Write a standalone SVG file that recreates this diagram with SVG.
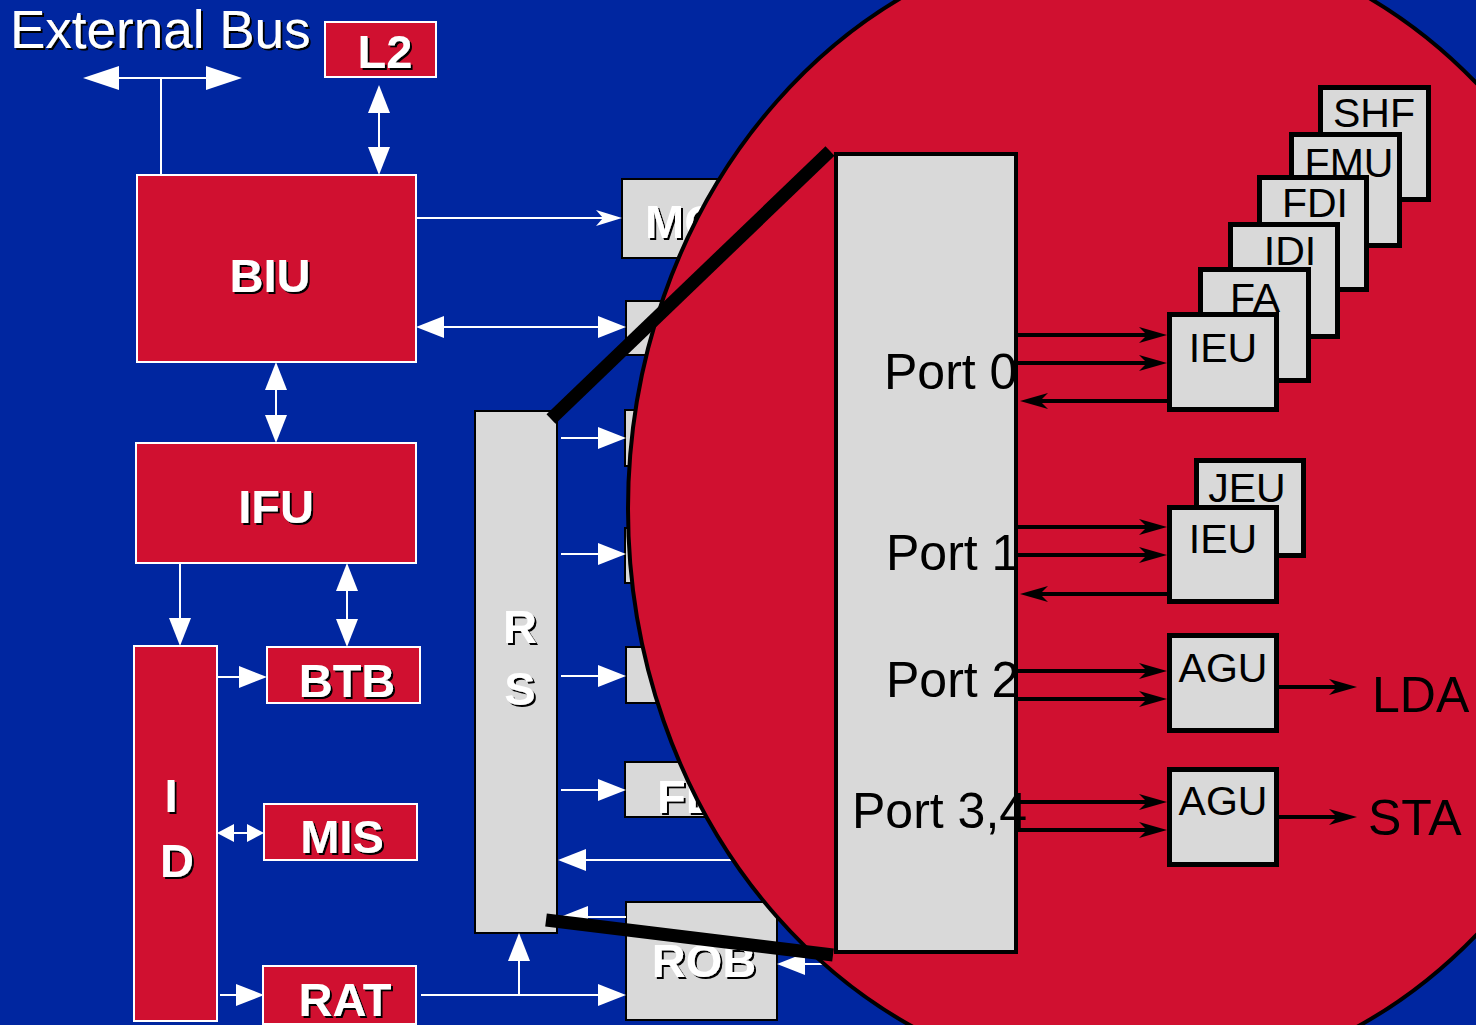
<svg xmlns="http://www.w3.org/2000/svg" width="1476" height="1025" viewBox="0 0 1476 1025">
<defs>
<style>
.bg{fill:#0026A0}
.rb{fill:#D01030;stroke:#fff;stroke-width:2}
.gb{fill:#D9D9D9;stroke:#000;stroke-width:2}
.ub{fill:#D9D9D9;stroke:#000;stroke-width:5}
.wl{font-family:"Liberation Sans",Arial,sans-serif;font-weight:bold;font-size:47px;fill:#fff;text-anchor:middle;filter:url(#sh)}
.ul{font-family:"Liberation Sans",Arial,sans-serif;font-size:41px;fill:#000;text-anchor:middle}
.pl{font-family:"Liberation Sans",Arial,sans-serif;font-size:50px;fill:#000}
.w{stroke:#fff;stroke-width:2;fill:none}
.b{stroke:#000;stroke-width:4;fill:none}
.z{stroke:#000;stroke-width:13;fill:none}
</style>
<filter id="sh" x="-10%" y="-10%" width="130%" height="130%">
<feDropShadow dx="2" dy="2" stdDeviation="0.4" flood-color="#000" flood-opacity="1"/>
</filter>
<marker id="aw" viewBox="0 0 28 22" markerWidth="28" markerHeight="22" refX="20" refY="11" orient="auto-start-reverse" markerUnits="userSpaceOnUse"><path d="M0,0 L28,11 L0,22 z" fill="#fff"/></marker>
<marker id="awl" viewBox="0 0 36 24" markerWidth="36" markerHeight="24" refX="28" refY="12" orient="auto-start-reverse" markerUnits="userSpaceOnUse"><path d="M0,0 L36,12 L0,24 z" fill="#fff"/></marker>
<marker id="aws" viewBox="0 0 17 18" markerWidth="17" markerHeight="18" refX="12" refY="9" orient="auto-start-reverse" markerUnits="userSpaceOnUse"><path d="M0,0 L17,9 L0,18 z" fill="#fff"/></marker>
<marker id="awb" viewBox="0 0 26 16" markerWidth="26" markerHeight="16" refX="20" refY="8" orient="auto" markerUnits="userSpaceOnUse"><path d="M0,0 L26,8 L0,16 L7,8 z" fill="#fff"/></marker>
<marker id="ab" viewBox="0 0 28 16" markerWidth="28" markerHeight="16" refX="18" refY="8" orient="auto" markerUnits="userSpaceOnUse"><path d="M0,0 L28,8 L0,16 L8,8 z" fill="#000"/></marker>
</defs>
<rect class="bg" x="0" y="0" width="1476" height="1025"/>
<text x="10" y="48" font-family="Liberation Sans, Arial, sans-serif" font-size="53" fill="#fff" filter="url(#sh)">External Bus</text>
<g id="L2"><rect class="rb" x="325" y="22" width="111" height="55"/><text class="wl" x="385" y="68">L2</text></g>
<g id="BIU"><rect class="rb" x="137" y="175" width="279" height="187"/><text class="wl" x="270" y="292">BIU</text></g>
<g id="IFU"><rect class="rb" x="136" y="443" width="280" height="120"/><text class="wl" x="276" y="523">IFU</text></g>
<g id="ID"><rect class="rb" x="134" y="646" width="83" height="375"/><text class="wl" x="171" y="812">I</text><text class="wl" x="177" y="877">D</text></g>
<g id="BTB"><rect class="rb" x="267" y="647" width="153" height="56"/><text class="wl" x="347" y="697">BTB</text></g>
<g id="MIS"><rect class="rb" x="264" y="804" width="153" height="56"/><text class="wl" x="342" y="853">MIS</text></g>
<g id="RAT"><rect class="rb" x="263" y="966" width="153" height="58"/><text class="wl" x="345" y="1016">RAT</text></g>
<g id="RS"><rect class="gb" x="475" y="411" width="82" height="522"/><text class="wl" x="520" y="643">R</text><text class="wl" x="520" y="705">S</text></g>
<g id="MOB"><rect class="gb" x="622" y="179" width="155" height="79"/><text class="wl" x="645" y="238" style="text-anchor:start">MOB</text></g>
<g id="U2"><rect class="gb" x="626" y="301" width="150" height="54"/></g>
<g id="U3"><rect class="gb" x="625" y="410" width="150" height="56"/></g>
<g id="U4"><rect class="gb" x="625" y="528" width="150" height="55"/></g>
<g id="U5"><rect class="gb" x="626" y="647" width="150" height="56"/></g>
<g id="FEU"><rect class="gb" x="625" y="762" width="150" height="55"/><text class="wl" x="657" y="813" style="text-anchor:start">FEU</text></g>
<g id="ROB"><rect class="gb" x="626" y="902" width="151" height="118"/><text class="wl" x="704" y="977">ROB</text></g>
<g id="connectors">
<line class="w" x1="91" y1="78" x2="234" y2="78" marker-start="url(#awl)" marker-end="url(#awl)"/>
<line class="w" x1="161" y1="78" x2="161" y2="175"/>
<line class="w" x1="379" y1="93" x2="379" y2="167" marker-start="url(#aw)" marker-end="url(#aw)"/>
<line class="w" x1="416" y1="218" x2="616" y2="218" marker-end="url(#awb)"/>
<line class="w" x1="424" y1="327" x2="618" y2="327" marker-start="url(#aw)" marker-end="url(#aw)"/>
<line class="w" x1="276" y1="370" x2="276" y2="435" marker-start="url(#aw)" marker-end="url(#aw)"/>
<line class="w" x1="180" y1="563" x2="180" y2="638" marker-end="url(#aw)"/>
<line class="w" x1="347" y1="571" x2="347" y2="639" marker-start="url(#aw)" marker-end="url(#aw)"/>
<line class="w" x1="217" y1="677" x2="259" y2="677" marker-end="url(#aw)"/>
<line class="w" x1="222" y1="833" x2="259" y2="833" marker-start="url(#aws)" marker-end="url(#aws)"/>
<line class="w" x1="220" y1="995" x2="256" y2="995" marker-end="url(#aw)"/>
<line class="w" x1="421" y1="995" x2="618" y2="995" marker-end="url(#aw)"/>
<line class="w" x1="519" y1="995" x2="519" y2="941" marker-end="url(#aw)"/>
<line class="w" x1="561" y1="438" x2="618" y2="438" marker-end="url(#aw)"/>
<line class="w" x1="561" y1="554" x2="618" y2="554" marker-end="url(#aw)"/>
<line class="w" x1="561" y1="676" x2="618" y2="676" marker-end="url(#aw)"/>
<line class="w" x1="561" y1="790" x2="618" y2="790" marker-end="url(#aw)"/>
<line class="w" x1="740" y1="860" x2="566" y2="860" marker-end="url(#aw)"/>
<line class="w" x1="626" y1="917" x2="568" y2="917" marker-end="url(#aw)"/>
<line class="w" x1="830" y1="964" x2="785" y2="964" marker-end="url(#aw)"/>
</g>
<g id="zoom-circle">
<ellipse cx="1135" cy="509" rx="507" ry="576" fill="#D01030" stroke="#000" stroke-width="4"/>
<line class="z" x1="551" y1="419" x2="830" y2="151"/>
<line class="z" x1="546" y1="920" x2="833" y2="955"/>
</g>
<g id="Ports"><rect fill="#D9D9D9" stroke="#000" stroke-width="4" x="836" y="154" width="180" height="798"/>
<text class="pl" x="884" y="389">Port 0</text>
<text class="pl" x="886" y="570">Port 1</text>
<text class="pl" x="886" y="697">Port 2</text>
<text class="pl" x="852" y="828">Port 3,4</text></g>
<g id="SHF"><rect class="ub" x="1320.5" y="87.5" width="108" height="112"/><text class="ul" x="1374" y="127">SHF</text></g>
<g id="FMU"><rect class="ub" x="1291.5" y="134.5" width="108" height="111"/><text class="ul" x="1349" y="177">FMU</text></g>
<g id="FDI"><rect class="ub" x="1259.5" y="177.5" width="107" height="112"/><text class="ul" x="1315" y="217">FDI</text></g>
<g id="IDI"><rect class="ub" x="1230.5" y="224.5" width="107" height="112"/><text class="ul" x="1290" y="265">IDI</text></g>
<g id="FA"><rect class="ub" x="1200.5" y="269.5" width="108" height="111"/><text class="ul" x="1255" y="312">FA</text></g>
<g id="IEU0"><rect class="ub" x="1169.5" y="314.5" width="107" height="95"/><text class="ul" x="1223" y="362">IEU</text></g>
<g id="JEU"><rect class="ub" x="1196.5" y="460.5" width="107" height="95"/><text class="ul" x="1247" y="502">JEU</text></g>
<g id="IEU1"><rect class="ub" x="1169.5" y="507.5" width="107" height="94"/><text class="ul" x="1223" y="553">IEU</text></g>
<g id="AGU2"><rect class="ub" x="1169.5" y="635.5" width="107" height="95"/><text class="ul" x="1223" y="682">AGU</text></g>
<g id="AGU34"><rect class="ub" x="1169.5" y="769.5" width="107" height="95"/><text class="ul" x="1223" y="815">AGU</text></g>
<text class="pl" x="1372" y="712" font-size="49">LDA</text>
<text class="pl" x="1368" y="835" font-size="49">STA</text>
<g id="port-connectors">
<line class="b" x1="1018" y1="335" x2="1157" y2="335" marker-end="url(#ab)"/>
<line class="b" x1="1018" y1="363" x2="1157" y2="363" marker-end="url(#ab)"/>
<line class="b" x1="1167" y1="401" x2="1030" y2="401" marker-end="url(#ab)"/>
<line class="b" x1="1018" y1="527" x2="1157" y2="527" marker-end="url(#ab)"/>
<line class="b" x1="1018" y1="555" x2="1157" y2="555" marker-end="url(#ab)"/>
<line class="b" x1="1167" y1="594" x2="1030" y2="594" marker-end="url(#ab)"/>
<line class="b" x1="1018" y1="671" x2="1157" y2="671" marker-end="url(#ab)"/>
<line class="b" x1="1018" y1="699" x2="1157" y2="699" marker-end="url(#ab)"/>
<line class="b" x1="1018" y1="802" x2="1157" y2="802" marker-end="url(#ab)"/>
<line class="b" x1="1018" y1="830" x2="1157" y2="830" marker-end="url(#ab)"/>
<line class="b" x1="1279" y1="687" x2="1347" y2="687" marker-end="url(#ab)"/>
<line class="b" x1="1279" y1="817" x2="1347" y2="817" marker-end="url(#ab)"/>
</g>
</svg>
